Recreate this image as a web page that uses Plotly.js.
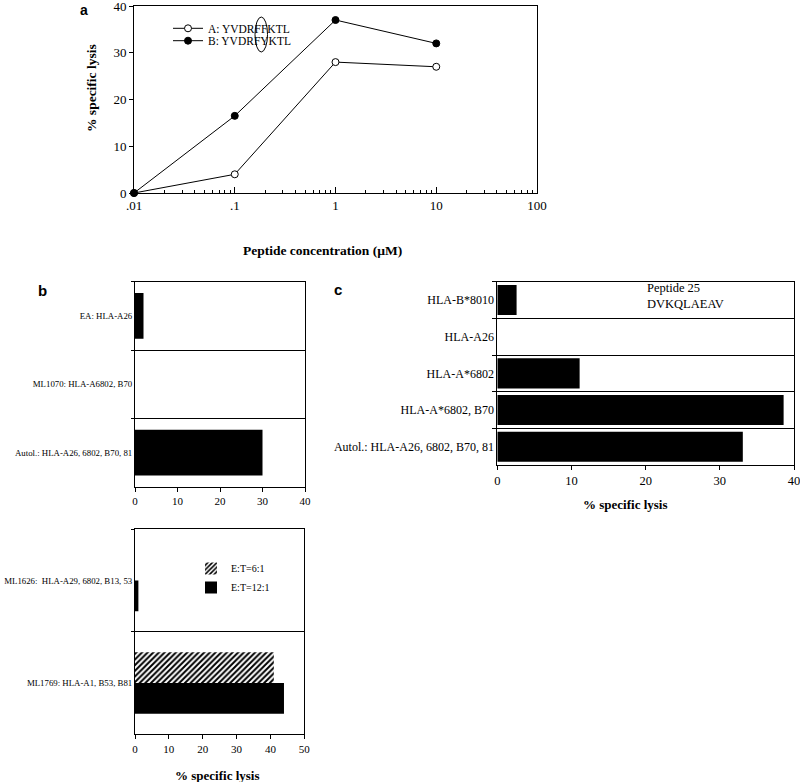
<!DOCTYPE html>
<html><head><meta charset="utf-8">
<script src="https://cdn.plot.ly/plotly-3.0.1.min.js"></script>
<style>html,body{margin:0;padding:0;background:#fff}#chart{width:800px;height:782px}</style>
</head><body><div id="chart"></div>
<script>
// ---- Panel a: lysis vs peptide concentration ----
const concentration = [0.01, 0.1, 1, 10];
const lysisA = [0, 4, 28, 27];
const lysisB = [0, 16.5, 37, 32];
const nameA = 'A: YVDRFFKTL';
const nameB = 'B: YVDRFYKTL';
const aTickVals = [0.01, 0.1, 1, 10, 100];
const aTickText = ['.01', '.1', '1', '10', '100'];

// ---- Panel b (top) ----
const bTopTargets = ['EA: HLA-A26', 'ML1070: HLA-A6802, B70', 'Autol.: HLA-A26, 6802, B70, 81'];
const bTopLysis = [2, 0, 30];

// ---- Panel b (bottom) ----
const bBotTargets = ['ML1626:\u00a0 HLA-A29, 6802, B13, 53', 'ML1769: HLA-A1, B53, B81'];
const bBotLysis6 = [0, 41];
const bBotLysis12 = [1, 44];
const ratio6 = 'E:T=6:1';
const ratio12 = 'E:T=12:1';

// ---- Panel c ----
const cTargets = ['HLA-B*8010', 'HLA-A26', 'HLA-A*6802', 'HLA-A*6802, B70', 'Autol.: HLA-A26, 6802, B70, 81'];
const cLysis = [2.6, 0, 11.1, 38.6, 33.1];

const W = 800, H = 782;
const px = v => v / W;
const py = v => 1 - v / H;
const SERIF = 'Liberation Serif, Times New Roman, serif';
const SANS = 'Liberation Sans, Arial, sans-serif';

const minorVals = [];
for (let d = -2; d < 2; d++) for (let m = 2; m <= 9; m++) minorVals.push(m * Math.pow(10, d));

const traces = [
  {type: 'scatter', x: concentration, y: lysisA, name: nameA, xaxis: 'x', yaxis: 'y', mode: 'lines+markers',
   line: {color: 'black', width: 1}, marker: {symbol: 'circle', size: 7, color: 'white', line: {color: 'black', width: 1}},
   cliponaxis: false, legend: 'legend'},
  {type: 'scatter', x: concentration, y: lysisB, name: nameB, xaxis: 'x', yaxis: 'y', mode: 'lines+markers',
   line: {color: 'black', width: 1}, marker: {symbol: 'circle', size: 7, color: 'black', line: {color: 'black', width: 1}},
   cliponaxis: false, legend: 'legend3'},
  {type: 'bar', orientation: 'h', x: bTopLysis, y: bTopTargets, xaxis: 'x2', yaxis: 'y2', width: 0.67,
   marker: {color: 'black', line: {width: 0}}, showlegend: false},
  {type: 'bar', orientation: 'h', x: bBotLysis6, y: bBotTargets, xaxis: 'x3', yaxis: 'y3', name: ratio6,
   marker: {color: 'white', line: {width: 0}, pattern: {shape: '/', fgcolor: 'black', bgcolor: 'white', size: 4, solidity: 0.5}},
   legend: 'legend2'},
  {type: 'bar', orientation: 'h', x: bBotLysis12, y: bBotTargets, xaxis: 'x3', yaxis: 'y3', name: ratio12,
   marker: {color: 'black', line: {width: 0}}, legend: 'legend2'},
  {type: 'bar', orientation: 'h', x: cLysis, y: cTargets, xaxis: 'x4', yaxis: 'y4', width: 0.82,
   marker: {color: 'black', line: {width: 0}}, showlegend: false}
];

const boxAxis = {showline: true, mirror: true, linecolor: 'black', linewidth: 1, showgrid: false, zeroline: false,
  tickcolor: 'black', tickwidth: 1, fixedrange: true, ticklabeloverflow: 'allow'};
const catAxis = Object.assign({}, boxAxis, {type: 'category', tickson: 'boundaries', ticks: 'outside', ticklen: 4,
  showgrid: true, gridcolor: 'black', gridwidth: 1});

function note(x, y, text, size, extra) {
  return Object.assign({xref: 'paper', yref: 'paper', x: px(x), y: py(y), text: text, showarrow: false,
    xanchor: 'center', yanchor: 'middle', font: {size: size}}, extra || {});
}

const layout = {
  width: W, height: H, margin: {l: 0, r: 0, t: 0, b: 0},
  paper_bgcolor: 'white', plot_bgcolor: 'white',
  font: {family: SERIF, color: 'black', size: 12},
  barmode: 'group', bargap: 0.4, bargroupgap: 0,
  xaxis: Object.assign({}, boxAxis, {domain: [px(134), px(537)], anchor: 'y', type: 'log', range: [-2, 2],
    tickmode: 'array', tickvals: aTickVals, ticktext: aTickText, ticks: 'inside', ticklen: 6,
    tickfont: {size: 13},
    minor: {tickmode: 'array', tickvals: minorVals, ticks: 'inside', ticklen: 3, tickcolor: 'black', showgrid: false}}),
  yaxis: Object.assign({}, boxAxis, {domain: [py(193), py(6)], anchor: 'x', range: [0, 40], dtick: 10,
    ticks: 'outside', ticklen: 4, tickfont: {size: 13}}),
  xaxis2: Object.assign({}, boxAxis, {domain: [px(135), px(305)], anchor: 'y2', range: [0, 40], dtick: 10,
    ticks: 'outside', ticklen: 4, tickfont: {size: 11}}),
  yaxis2: Object.assign({}, catAxis, {domain: [py(486.7), py(281.7)], anchor: 'x2', range: [2.5, -0.5], ticklen: 3,
    categoryorder: 'array', categoryarray: bTopTargets, tickfont: {size: 8.8}}),
  xaxis3: Object.assign({}, boxAxis, {domain: [px(135), px(304.3)], anchor: 'y3', range: [0, 50], dtick: 10,
    ticks: 'outside', ticklen: 4, tickfont: {size: 11}}),
  yaxis3: Object.assign({}, catAxis, {domain: [py(734.3), py(529.3)], anchor: 'x3', range: [1.5, -0.5], ticklen: 3,
    categoryorder: 'array', categoryarray: bBotTargets, tickfont: {size: 8.8}}),
  xaxis4: Object.assign({}, boxAxis, {domain: [px(497.3), px(794)], anchor: 'y4', range: [0, 40], dtick: 10,
    ticks: 'outside', ticklen: 4, tickfont: {size: 12.5}}),
  yaxis4: Object.assign({}, catAxis, {domain: [py(465), py(281.7)], anchor: 'x4', range: [4.5, -0.5],
    categoryorder: 'array', categoryarray: cTargets, tickfont: {size: 12}}),
  legend: {x: px(168), y: py(28.3), xanchor: 'left', yanchor: 'middle', bgcolor: 'rgba(0,0,0,0)',
    font: {size: 11.5, family: SERIF}, itemwidth: 30, borderwidth: 0},
  legend3: {x: px(168), y: py(40.7), xanchor: 'left', yanchor: 'middle', bgcolor: 'rgba(0,0,0,0)',
    font: {size: 11.5, family: SERIF}, itemwidth: 30, borderwidth: 0},
  legend2: {x: px(191), y: py(578), xanchor: 'left', yanchor: 'middle', bgcolor: 'rgba(0,0,0,0)',
    font: {size: 10, family: SERIF}, itemwidth: 30, borderwidth: 0, traceorder: 'normal'},
  shapes: [
    {type: 'circle', xref: 'paper', yref: 'paper', x0: px(255), x1: px(267.5), y0: py(52), y1: py(17),
     line: {color: 'black', width: 1}}
  ],
  annotations: [
    note(84, 10, '<b>a</b>', 14, {font: {family: SANS, size: 14}}),
    note(42, 290, '<b>b</b>', 15, {font: {family: SANS, size: 15}}),
    note(337.5, 289, '<b>c</b>', 15, {font: {family: SANS, size: 15}}),
    note(92, 88, '<b>% specific lysis</b>', 13.5, {textangle: -90}),
    note(322, 250, '<b>Peptide concentration (µM)</b>', 13.5),
    note(217, 775, '<b>% specific lysis</b>', 13),
    note(625, 505, '<b>% specific lysis</b>', 13),
    note(645, 296, 'Peptide 25<br>DVKQLAEAV', 12.5, {xanchor: 'left', align: 'left'})
  ]
};

Plotly.newPlot('chart', traces, layout, {staticPlot: true, displayModeBar: false});
</script>
</body></html>
